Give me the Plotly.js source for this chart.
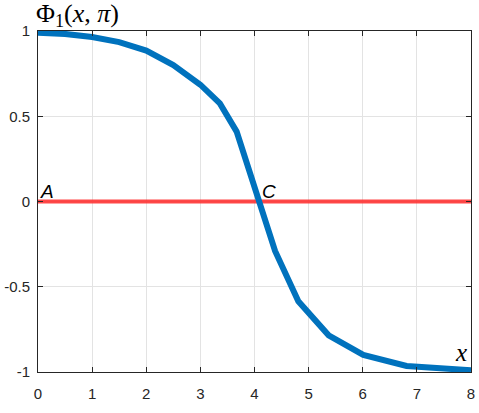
<!DOCTYPE html>
<html>
<head>
<meta charset="utf-8">
<script src="https://cdn.plot.ly/plotly-3.0.1.min.js"></script>
<style>
  body { margin: 0; background: #fff; }
  #plot { width: 479px; height: 413px; }
</style>
</head>
<body>
<div id="plot"></div>
<script>
// Phi_1(x, pi) curve
const curveX = [0, 0.5, 1, 1.5, 2, 2.5, 3, 3.36, 3.67, 4.38, 4.81, 5.37, 6.01, 6.81, 8];
const curveY = [0.99, 0.983, 0.965, 0.935, 0.885, 0.80, 0.685, 0.575, 0.41, -0.29, -0.585, -0.785, -0.90, -0.965, -0.99];

// zero line
const zeroX = [0, 8];
const zeroY = [0, 0];

const xTicks = [0, 1, 2, 3, 4, 5, 6, 7, 8];
const yTicks = [-1, -0.5, 0, 0.5, 1];
const yTickText = ['-1', '-0.5', '0', '0.5', '1'];

const pointLabels = ['A', 'C'];
const pointX = [0, 4.1];
const pointY = [0, 0];

const curve = {
    x: curveX,
    y: curveY,
    mode: 'lines',
    type: 'scatter',
    line: { color: '#0072BD', width: 6 },
    hoverinfo: 'none'
};

const zero = {
    x: zeroX,
    y: zeroY,
    mode: 'lines',
    type: 'scatter',
    line: { color: 'rgba(255,40,40,0.85)', width: 4 },
    hoverinfo: 'none'
};

const tickFont = { family: 'Arial', size: 15, color: '#262626' };

const axisBase = {
    showline: true,
    linecolor: '#262626',
    linewidth: 1,
    mirror: 'ticks',
    ticks: 'inside',
    ticklen: 5,
    tickcolor: '#262626',
    showgrid: true,
    gridcolor: '#e3e3e3',
    zeroline: false
};

// label annotations for points A and C
const annotations = pointLabels.map((t, i) => ({
    x: pointX[i],
    y: pointY[i],
    xref: 'x',
    yref: 'y',
    text: '<i>' + t + '</i>',
    showarrow: false,
    xanchor: 'left',
    yanchor: 'bottom',
    yshift: -2,
    font: { family: 'Arial', size: 19, color: '#000' }
}));

// axis labels drawn as in the picture
annotations.push({
    x: 0,
    y: 1,
    xref: 'paper',
    yref: 'paper',
    text: 'Φ<sub>1</sub>(<i>x</i>, <i>π</i>)',
    showarrow: false,
    xanchor: 'left',
    yanchor: 'bottom',
    xshift: -4,
    yshift: -2,
    font: { family: 'Liberation Serif, serif', size: 26, color: '#000' }
});
annotations.push({
    x: 1,
    y: 0,
    xref: 'paper',
    yref: 'paper',
    text: '<i>x</i>',
    showarrow: false,
    xanchor: 'right',
    yanchor: 'bottom',
    xshift: -2,
    yshift: 4,
    font: { family: 'Liberation Serif, serif', size: 25, color: '#000' }
});

const layout = {
    width: 479,
    height: 413,
    margin: { l: 38, r: 8, t: 31, b: 41 },
    paper_bgcolor: '#fff',
    plot_bgcolor: '#fff',
    showlegend: false,
    font: { family: 'Arial', size: 15, color: '#262626' },
    xaxis: Object.assign({}, axisBase, {
        range: [0, 8],
        tickvals: xTicks,
        tickfont: tickFont,
        ticklabelstandoff: 8
    }),
    yaxis: Object.assign({}, axisBase, {
        range: [-1, 1],
        tickvals: yTicks,
        ticktext: yTickText,
        tickfont: tickFont,
        ticklabelstandoff: 4
    }),
    annotations: annotations
};

Plotly.newPlot('plot', [zero, curve], layout, { displayModeBar: false, staticPlot: true });
</script>
</body>
</html>
